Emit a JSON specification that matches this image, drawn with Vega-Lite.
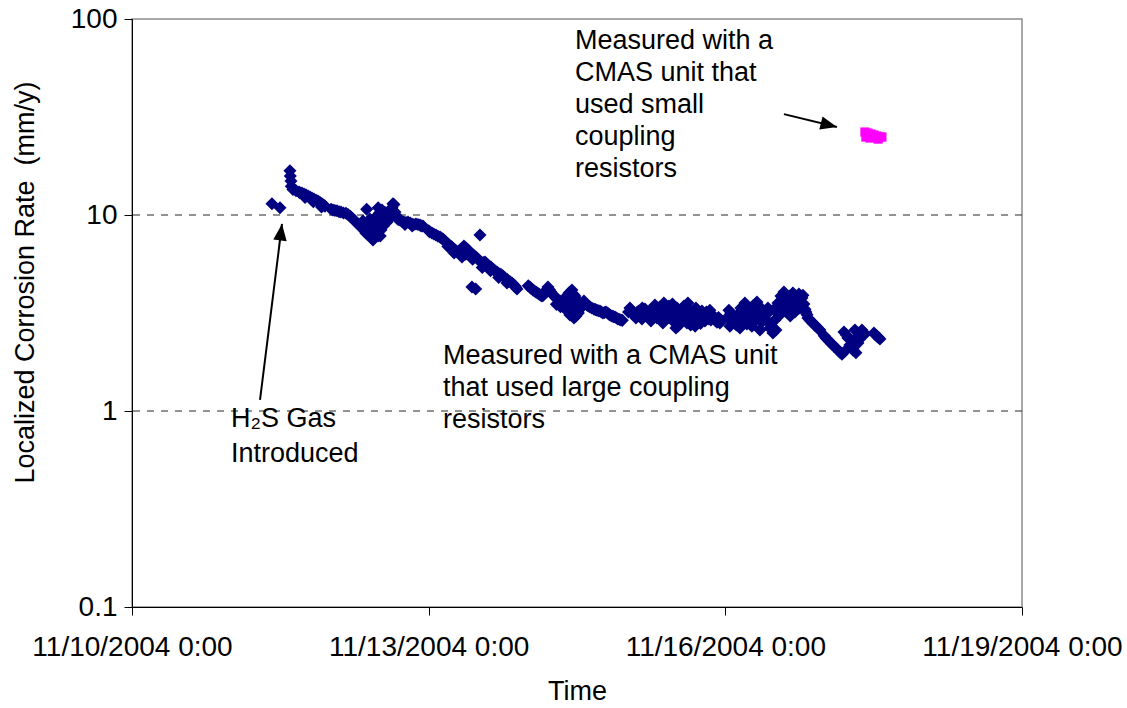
{
  "$schema": "https://vega.github.io/schema/vega-lite/v6.json",
  "width": 890,
  "height": 588,
  "autosize": {"type": "none"},
  "padding": {"left": 132, "top": 19, "right": 105, "bottom": 101},
  "background": "white",
  "config": {
    "view": {"stroke": "#8c8c8c", "strokeWidth": 1.5},
    "font": "Liberation Sans",
    "axis": {
      "labelFont": "Liberation Sans",
      "titleFont": "Liberation Sans",
      "labelColor": "black",
      "titleColor": "black",
      "domainColor": "black",
      "tickColor": "black",
      "grid": false,
      "labelFontSize": 28,
      "labelLimit": 0,
      "titleLimit": 0,
      "titleFontSize": 27,
      "titleFontWeight": "normal",
      "tickSize": 8
    }
  },
  "datasets": {
    "gridlines": [{"rate": 1}, {"rate": 10}],
    "readings": [
      {"time": "2004-11-11T09:58", "rate": 11.4, "unit": "large"},
      {"time": "2004-11-11T11:55", "rate": 10.9, "unit": "large"},
      {"time": "2004-11-11T14:20", "rate": 16.8, "unit": "large"},
      {"time": "2004-11-11T14:25", "rate": 15.8, "unit": "large"},
      {"time": "2004-11-11T14:35", "rate": 14.9, "unit": "large"},
      {"time": "2004-11-11T14:40", "rate": 14.0, "unit": "large"},
      {"time": "2004-11-11T15:04", "rate": 13.5, "unit": "large"},
      {"time": "2004-11-11T15:48", "rate": 13.3, "unit": "large"},
      {"time": "2004-11-11T16:32", "rate": 13.1, "unit": "large"},
      {"time": "2004-11-11T16:45", "rate": 13.0, "unit": "large"},
      {"time": "2004-11-11T17:15", "rate": 12.95, "unit": "large"},
      {"time": "2004-11-11T17:45", "rate": 12.8, "unit": "large"},
      {"time": "2004-11-11T18:00", "rate": 12.3, "unit": "large"},
      {"time": "2004-11-11T18:13", "rate": 12.7, "unit": "large"},
      {"time": "2004-11-11T18:45", "rate": 12.5, "unit": "large"},
      {"time": "2004-11-11T19:12", "rate": 12.35, "unit": "large"},
      {"time": "2004-11-11T19:40", "rate": 12.2, "unit": "large"},
      {"time": "2004-11-11T20:00", "rate": 11.7, "unit": "large"},
      {"time": "2004-11-11T20:10", "rate": 12.05, "unit": "large"},
      {"time": "2004-11-11T20:40", "rate": 11.9, "unit": "large"},
      {"time": "2004-11-11T21:08", "rate": 11.8, "unit": "large"},
      {"time": "2004-11-11T21:35", "rate": 11.6, "unit": "large"},
      {"time": "2004-11-11T22:00", "rate": 11.0, "unit": "large"},
      {"time": "2004-11-11T22:06", "rate": 11.4, "unit": "large"},
      {"time": "2004-11-11T22:30", "rate": 11.25, "unit": "large"},
      {"time": "2004-11-11T22:50", "rate": 11.1, "unit": "large"},
      {"time": "2004-11-12T00:20", "rate": 10.7, "unit": "large"},
      {"time": "2004-11-12T00:47", "rate": 10.6, "unit": "large"},
      {"time": "2004-11-12T01:15", "rate": 10.55, "unit": "large"},
      {"time": "2004-11-12T01:45", "rate": 10.5, "unit": "large"},
      {"time": "2004-11-12T02:15", "rate": 10.4, "unit": "large"},
      {"time": "2004-11-12T02:43", "rate": 10.35, "unit": "large"},
      {"time": "2004-11-12T03:20", "rate": 10.25, "unit": "large"},
      {"time": "2004-11-12T03:56", "rate": 10.2, "unit": "large"},
      {"time": "2004-11-12T04:25", "rate": 10.05, "unit": "large"},
      {"time": "2004-11-12T04:54", "rate": 9.88, "unit": "large"},
      {"time": "2004-11-12T05:15", "rate": 9.7, "unit": "large"},
      {"time": "2004-11-12T05:38", "rate": 9.54, "unit": "large"},
      {"time": "2004-11-12T06:00", "rate": 9.37, "unit": "large"},
      {"time": "2004-11-12T06:21", "rate": 9.21, "unit": "large"},
      {"time": "2004-11-12T06:45", "rate": 9.05, "unit": "large"},
      {"time": "2004-11-12T07:05", "rate": 8.89, "unit": "large"},
      {"time": "2004-11-12T07:25", "rate": 8.73, "unit": "large"},
      {"time": "2004-11-12T07:49", "rate": 8.58, "unit": "large"},
      {"time": "2004-11-12T08:03", "rate": 9.32, "unit": "large"},
      {"time": "2004-11-12T08:15", "rate": 8.43, "unit": "large"},
      {"time": "2004-11-12T08:33", "rate": 8.28, "unit": "large"},
      {"time": "2004-11-12T08:45", "rate": 8.1, "unit": "large"},
      {"time": "2004-11-12T08:57", "rate": 10.7, "unit": "large"},
      {"time": "2004-11-12T09:02", "rate": 8.0, "unit": "large"},
      {"time": "2004-11-12T09:16", "rate": 8.79, "unit": "large"},
      {"time": "2004-11-12T09:30", "rate": 8.6, "unit": "large"},
      {"time": "2004-11-12T09:45", "rate": 9.54, "unit": "large"},
      {"time": "2004-11-12T10:00", "rate": 9.0, "unit": "large"},
      {"time": "2004-11-12T10:14", "rate": 8.38, "unit": "large"},
      {"time": "2004-11-12T10:29", "rate": 7.45, "unit": "large"},
      {"time": "2004-11-12T10:30", "rate": 8.1, "unit": "large"},
      {"time": "2004-11-12T10:44", "rate": 7.72, "unit": "large"},
      {"time": "2004-11-12T10:50", "rate": 8.3, "unit": "large"},
      {"time": "2004-11-12T11:00", "rate": 8.5, "unit": "large"},
      {"time": "2004-11-12T11:13", "rate": 9.21, "unit": "large"},
      {"time": "2004-11-12T11:30", "rate": 9.9, "unit": "large"},
      {"time": "2004-11-12T11:42", "rate": 7.81, "unit": "large"},
      {"time": "2004-11-12T11:45", "rate": 10.9, "unit": "large"},
      {"time": "2004-11-12T12:00", "rate": 10.2, "unit": "large"},
      {"time": "2004-11-12T12:11", "rate": 9.65, "unit": "large"},
      {"time": "2004-11-12T12:15", "rate": 7.81, "unit": "large"},
      {"time": "2004-11-12T12:25", "rate": 8.38, "unit": "large"},
      {"time": "2004-11-12T12:30", "rate": 9.0, "unit": "large"},
      {"time": "2004-11-12T12:40", "rate": 10.6, "unit": "large"},
      {"time": "2004-11-12T12:50", "rate": 9.2, "unit": "large"},
      {"time": "2004-11-12T13:00", "rate": 8.8, "unit": "large"},
      {"time": "2004-11-12T13:09", "rate": 9.88, "unit": "large"},
      {"time": "2004-11-12T13:25", "rate": 10.3, "unit": "large"},
      {"time": "2004-11-12T13:38", "rate": 9.43, "unit": "large"},
      {"time": "2004-11-12T13:50", "rate": 9.7, "unit": "large"},
      {"time": "2004-11-12T13:55", "rate": 9.2, "unit": "large"},
      {"time": "2004-11-12T14:07", "rate": 10.1, "unit": "large"},
      {"time": "2004-11-12T14:20", "rate": 9.6, "unit": "large"},
      {"time": "2004-11-12T14:37", "rate": 10.6, "unit": "large"},
      {"time": "2004-11-12T14:50", "rate": 10.0, "unit": "large"},
      {"time": "2004-11-12T15:06", "rate": 10.9, "unit": "large"},
      {"time": "2004-11-12T15:10", "rate": 10.2, "unit": "large"},
      {"time": "2004-11-12T15:20", "rate": 11.4, "unit": "large"},
      {"time": "2004-11-12T15:35", "rate": 11.3, "unit": "large"},
      {"time": "2004-11-12T15:49", "rate": 10.35, "unit": "large"},
      {"time": "2004-11-12T16:00", "rate": 10.0, "unit": "large"},
      {"time": "2004-11-12T16:18", "rate": 9.65, "unit": "large"},
      {"time": "2004-11-12T16:30", "rate": 9.55, "unit": "large"},
      {"time": "2004-11-12T16:40", "rate": 9.5, "unit": "large"},
      {"time": "2004-11-12T17:02", "rate": 9.43, "unit": "large"},
      {"time": "2004-11-12T17:30", "rate": 9.3, "unit": "large"},
      {"time": "2004-11-12T18:00", "rate": 9.21, "unit": "large"},
      {"time": "2004-11-12T18:15", "rate": 8.95, "unit": "large"},
      {"time": "2004-11-12T18:30", "rate": 9.15, "unit": "large"},
      {"time": "2004-11-12T18:59", "rate": 9.21, "unit": "large"},
      {"time": "2004-11-12T19:30", "rate": 9.1, "unit": "large"},
      {"time": "2004-11-12T19:57", "rate": 9.0, "unit": "large"},
      {"time": "2004-11-12T20:00", "rate": 8.8, "unit": "large"},
      {"time": "2004-11-12T20:25", "rate": 8.95, "unit": "large"},
      {"time": "2004-11-12T20:55", "rate": 9.0, "unit": "large"},
      {"time": "2004-11-12T21:25", "rate": 8.95, "unit": "large"},
      {"time": "2004-11-12T21:53", "rate": 8.89, "unit": "large"},
      {"time": "2004-11-12T22:10", "rate": 8.8, "unit": "large"},
      {"time": "2004-11-12T22:37", "rate": 8.79, "unit": "large"},
      {"time": "2004-11-13T00:00", "rate": 8.3, "unit": "large"},
      {"time": "2004-11-13T00:19", "rate": 8.19, "unit": "large"},
      {"time": "2004-11-13T00:48", "rate": 8.09, "unit": "large"},
      {"time": "2004-11-13T01:15", "rate": 8.0, "unit": "large"},
      {"time": "2004-11-13T01:46", "rate": 7.9, "unit": "large"},
      {"time": "2004-11-13T02:15", "rate": 7.8, "unit": "large"},
      {"time": "2004-11-13T02:45", "rate": 7.72, "unit": "large"},
      {"time": "2004-11-13T03:05", "rate": 7.63, "unit": "large"},
      {"time": "2004-11-13T03:28", "rate": 7.54, "unit": "large"},
      {"time": "2004-11-13T03:50", "rate": 7.4, "unit": "large"},
      {"time": "2004-11-13T04:12", "rate": 7.28, "unit": "large"},
      {"time": "2004-11-13T04:35", "rate": 7.15, "unit": "large"},
      {"time": "2004-11-13T04:40", "rate": 6.9, "unit": "large"},
      {"time": "2004-11-13T04:56", "rate": 7.03, "unit": "large"},
      {"time": "2004-11-13T05:20", "rate": 6.95, "unit": "large"},
      {"time": "2004-11-13T05:39", "rate": 6.86, "unit": "large"},
      {"time": "2004-11-13T06:00", "rate": 6.75, "unit": "large"},
      {"time": "2004-11-13T06:10", "rate": 6.4, "unit": "large"},
      {"time": "2004-11-13T06:23", "rate": 6.63, "unit": "large"},
      {"time": "2004-11-13T06:45", "rate": 6.55, "unit": "large"},
      {"time": "2004-11-13T07:07", "rate": 6.47, "unit": "large"},
      {"time": "2004-11-13T07:30", "rate": 6.55, "unit": "large"},
      {"time": "2004-11-13T07:50", "rate": 6.7, "unit": "large"},
      {"time": "2004-11-13T08:05", "rate": 6.1, "unit": "large"},
      {"time": "2004-11-13T08:20", "rate": 6.8, "unit": "large"},
      {"time": "2004-11-13T08:34", "rate": 6.94, "unit": "large"},
      {"time": "2004-11-13T08:55", "rate": 6.8, "unit": "large"},
      {"time": "2004-11-13T09:00", "rate": 6.3, "unit": "large"},
      {"time": "2004-11-13T09:18", "rate": 6.7, "unit": "large"},
      {"time": "2004-11-13T09:40", "rate": 6.6, "unit": "large"},
      {"time": "2004-11-13T10:01", "rate": 6.47, "unit": "large"},
      {"time": "2004-11-13T10:20", "rate": 6.35, "unit": "large"},
      {"time": "2004-11-13T10:30", "rate": 4.29, "unit": "large"},
      {"time": "2004-11-13T10:40", "rate": 5.95, "unit": "large"},
      {"time": "2004-11-13T10:45", "rate": 6.25, "unit": "large"},
      {"time": "2004-11-13T11:05", "rate": 6.2, "unit": "large"},
      {"time": "2004-11-13T11:25", "rate": 4.19, "unit": "large"},
      {"time": "2004-11-13T11:29", "rate": 6.1, "unit": "large"},
      {"time": "2004-11-13T11:50", "rate": 6.0, "unit": "large"},
      {"time": "2004-11-13T12:12", "rate": 5.89, "unit": "large"},
      {"time": "2004-11-13T12:27", "rate": 7.9, "unit": "large"},
      {"time": "2004-11-13T12:35", "rate": 5.78, "unit": "large"},
      {"time": "2004-11-13T12:56", "rate": 5.69, "unit": "large"},
      {"time": "2004-11-13T13:00", "rate": 5.4, "unit": "large"},
      {"time": "2004-11-13T13:15", "rate": 5.72, "unit": "large"},
      {"time": "2004-11-13T13:40", "rate": 5.76, "unit": "large"},
      {"time": "2004-11-13T14:00", "rate": 5.65, "unit": "large"},
      {"time": "2004-11-13T14:23", "rate": 5.55, "unit": "large"},
      {"time": "2004-11-13T14:45", "rate": 5.48, "unit": "large"},
      {"time": "2004-11-13T15:00", "rate": 5.2, "unit": "large"},
      {"time": "2004-11-13T15:07", "rate": 5.42, "unit": "large"},
      {"time": "2004-11-13T15:30", "rate": 5.32, "unit": "large"},
      {"time": "2004-11-13T15:51", "rate": 5.24, "unit": "large"},
      {"time": "2004-11-13T16:10", "rate": 5.18, "unit": "large"},
      {"time": "2004-11-13T16:34", "rate": 5.12, "unit": "large"},
      {"time": "2004-11-13T16:55", "rate": 5.05, "unit": "large"},
      {"time": "2004-11-13T17:00", "rate": 4.8, "unit": "large"},
      {"time": "2004-11-13T17:18", "rate": 5.0, "unit": "large"},
      {"time": "2004-11-13T17:40", "rate": 4.95, "unit": "large"},
      {"time": "2004-11-13T18:02", "rate": 4.88, "unit": "large"},
      {"time": "2004-11-13T18:25", "rate": 4.8, "unit": "large"},
      {"time": "2004-11-13T18:45", "rate": 4.72, "unit": "large"},
      {"time": "2004-11-13T19:00", "rate": 4.5, "unit": "large"},
      {"time": "2004-11-13T19:05", "rate": 4.68, "unit": "large"},
      {"time": "2004-11-13T19:29", "rate": 4.61, "unit": "large"},
      {"time": "2004-11-13T19:50", "rate": 4.55, "unit": "large"},
      {"time": "2004-11-13T20:13", "rate": 4.5, "unit": "large"},
      {"time": "2004-11-13T20:35", "rate": 4.42, "unit": "large"},
      {"time": "2004-11-13T20:57", "rate": 4.34, "unit": "large"},
      {"time": "2004-11-13T21:10", "rate": 4.27, "unit": "large"},
      {"time": "2004-11-13T21:26", "rate": 4.19, "unit": "large"},
      {"time": "2004-11-14T00:10", "rate": 4.35, "unit": "large"},
      {"time": "2004-11-14T00:35", "rate": 4.29, "unit": "large"},
      {"time": "2004-11-14T00:55", "rate": 4.2, "unit": "large"},
      {"time": "2004-11-14T01:19", "rate": 4.14, "unit": "large"},
      {"time": "2004-11-14T01:40", "rate": 4.1, "unit": "large"},
      {"time": "2004-11-14T02:02", "rate": 4.05, "unit": "large"},
      {"time": "2004-11-14T02:25", "rate": 4.0, "unit": "large"},
      {"time": "2004-11-14T02:46", "rate": 3.95, "unit": "large"},
      {"time": "2004-11-14T03:10", "rate": 3.9, "unit": "large"},
      {"time": "2004-11-14T03:30", "rate": 3.86, "unit": "large"},
      {"time": "2004-11-14T03:50", "rate": 3.9, "unit": "large"},
      {"time": "2004-11-14T04:13", "rate": 4.0, "unit": "large"},
      {"time": "2004-11-14T04:35", "rate": 4.15, "unit": "large"},
      {"time": "2004-11-14T04:57", "rate": 4.29, "unit": "large"},
      {"time": "2004-11-14T05:20", "rate": 4.15, "unit": "large"},
      {"time": "2004-11-14T05:41", "rate": 4.05, "unit": "large"},
      {"time": "2004-11-14T06:00", "rate": 3.95, "unit": "large"},
      {"time": "2004-11-14T06:24", "rate": 3.86, "unit": "large"},
      {"time": "2004-11-14T06:45", "rate": 3.8, "unit": "large"},
      {"time": "2004-11-14T07:00", "rate": 3.5, "unit": "large"},
      {"time": "2004-11-14T07:08", "rate": 3.73, "unit": "large"},
      {"time": "2004-11-14T07:30", "rate": 3.68, "unit": "large"},
      {"time": "2004-11-14T07:52", "rate": 3.64, "unit": "large"},
      {"time": "2004-11-14T08:00", "rate": 3.4, "unit": "large"},
      {"time": "2004-11-14T08:15", "rate": 3.6, "unit": "large"},
      {"time": "2004-11-14T08:35", "rate": 3.56, "unit": "large"},
      {"time": "2004-11-14T08:55", "rate": 3.65, "unit": "large"},
      {"time": "2004-11-14T09:19", "rate": 3.77, "unit": "large"},
      {"time": "2004-11-14T09:25", "rate": 3.27, "unit": "large"},
      {"time": "2004-11-14T09:40", "rate": 3.9, "unit": "large"},
      {"time": "2004-11-14T09:50", "rate": 3.45, "unit": "large"},
      {"time": "2004-11-14T10:00", "rate": 3.6, "unit": "large"},
      {"time": "2004-11-14T10:03", "rate": 4.0, "unit": "large"},
      {"time": "2004-11-14T10:17", "rate": 3.09, "unit": "large"},
      {"time": "2004-11-14T10:25", "rate": 4.05, "unit": "large"},
      {"time": "2004-11-14T10:35", "rate": 3.3, "unit": "large"},
      {"time": "2004-11-14T10:46", "rate": 4.14, "unit": "large"},
      {"time": "2004-11-14T11:00", "rate": 3.1, "unit": "large"},
      {"time": "2004-11-14T11:05", "rate": 3.95, "unit": "large"},
      {"time": "2004-11-14T11:16", "rate": 2.98, "unit": "large"},
      {"time": "2004-11-14T11:30", "rate": 3.86, "unit": "large"},
      {"time": "2004-11-14T11:45", "rate": 3.05, "unit": "large"},
      {"time": "2004-11-14T11:50", "rate": 3.72, "unit": "large"},
      {"time": "2004-11-14T11:55", "rate": 3.5, "unit": "large"},
      {"time": "2004-11-14T12:14", "rate": 3.6, "unit": "large"},
      {"time": "2004-11-14T12:20", "rate": 3.16, "unit": "large"},
      {"time": "2004-11-14T12:35", "rate": 3.5, "unit": "large"},
      {"time": "2004-11-14T12:40", "rate": 3.3, "unit": "large"},
      {"time": "2004-11-14T12:58", "rate": 3.43, "unit": "large"},
      {"time": "2004-11-14T13:20", "rate": 3.52, "unit": "large"},
      {"time": "2004-11-14T13:41", "rate": 3.64, "unit": "large"},
      {"time": "2004-11-14T14:00", "rate": 3.55, "unit": "large"},
      {"time": "2004-11-14T14:25", "rate": 3.47, "unit": "large"},
      {"time": "2004-11-14T14:45", "rate": 3.43, "unit": "large"},
      {"time": "2004-11-14T15:09", "rate": 3.39, "unit": "large"},
      {"time": "2004-11-14T15:35", "rate": 3.35, "unit": "large"},
      {"time": "2004-11-14T16:07", "rate": 3.31, "unit": "large"},
      {"time": "2004-11-14T16:30", "rate": 3.29, "unit": "large"},
      {"time": "2004-11-14T16:50", "rate": 3.27, "unit": "large"},
      {"time": "2004-11-14T17:10", "rate": 3.25, "unit": "large"},
      {"time": "2004-11-14T17:34", "rate": 3.24, "unit": "large"},
      {"time": "2004-11-14T17:55", "rate": 3.2, "unit": "large"},
      {"time": "2004-11-14T18:18", "rate": 3.16, "unit": "large"},
      {"time": "2004-11-14T18:40", "rate": 3.18, "unit": "large"},
      {"time": "2004-11-14T19:02", "rate": 3.2, "unit": "large"},
      {"time": "2004-11-14T19:25", "rate": 3.16, "unit": "large"},
      {"time": "2004-11-14T19:45", "rate": 3.12, "unit": "large"},
      {"time": "2004-11-14T20:05", "rate": 3.08, "unit": "large"},
      {"time": "2004-11-14T20:29", "rate": 3.05, "unit": "large"},
      {"time": "2004-11-14T20:50", "rate": 3.03, "unit": "large"},
      {"time": "2004-11-14T21:13", "rate": 3.02, "unit": "large"},
      {"time": "2004-11-14T21:35", "rate": 2.98, "unit": "large"},
      {"time": "2004-11-14T21:56", "rate": 2.95, "unit": "large"},
      {"time": "2004-11-14T22:20", "rate": 2.93, "unit": "large"},
      {"time": "2004-11-14T22:40", "rate": 2.91, "unit": "large"},
      {"time": "2004-11-14T23:00", "rate": 2.9, "unit": "large"},
      {"time": "2004-11-15T00:30", "rate": 3.2, "unit": "large"},
      {"time": "2004-11-15T00:51", "rate": 3.35, "unit": "large"},
      {"time": "2004-11-15T01:10", "rate": 3.25, "unit": "large"},
      {"time": "2004-11-15T01:35", "rate": 3.12, "unit": "large"},
      {"time": "2004-11-15T02:00", "rate": 3.1, "unit": "large"},
      {"time": "2004-11-15T02:18", "rate": 2.98, "unit": "large"},
      {"time": "2004-11-15T02:40", "rate": 3.2, "unit": "large"},
      {"time": "2004-11-15T03:02", "rate": 3.24, "unit": "large"},
      {"time": "2004-11-15T03:25", "rate": 3.1, "unit": "large"},
      {"time": "2004-11-15T03:46", "rate": 2.95, "unit": "large"},
      {"time": "2004-11-15T03:50", "rate": 3.35, "unit": "large"},
      {"time": "2004-11-15T04:10", "rate": 3.15, "unit": "large"},
      {"time": "2004-11-15T04:29", "rate": 3.31, "unit": "large"},
      {"time": "2004-11-15T04:50", "rate": 3.2, "unit": "large"},
      {"time": "2004-11-15T05:13", "rate": 3.05, "unit": "large"},
      {"time": "2004-11-15T05:35", "rate": 3.25, "unit": "large"},
      {"time": "2004-11-15T05:57", "rate": 2.88, "unit": "large"},
      {"time": "2004-11-15T06:20", "rate": 3.0, "unit": "large"},
      {"time": "2004-11-15T06:40", "rate": 3.2, "unit": "large"},
      {"time": "2004-11-15T06:55", "rate": 3.47, "unit": "large"},
      {"time": "2004-11-15T07:05", "rate": 3.25, "unit": "large"},
      {"time": "2004-11-15T07:24", "rate": 2.98, "unit": "large"},
      {"time": "2004-11-15T07:45", "rate": 3.15, "unit": "large"},
      {"time": "2004-11-15T08:08", "rate": 3.39, "unit": "large"},
      {"time": "2004-11-15T08:30", "rate": 3.05, "unit": "large"},
      {"time": "2004-11-15T08:51", "rate": 2.81, "unit": "large"},
      {"time": "2004-11-15T09:05", "rate": 3.56, "unit": "large"},
      {"time": "2004-11-15T09:15", "rate": 2.95, "unit": "large"},
      {"time": "2004-11-15T09:35", "rate": 3.12, "unit": "large"},
      {"time": "2004-11-15T09:55", "rate": 3.3, "unit": "large"},
      {"time": "2004-11-15T10:19", "rate": 3.43, "unit": "large"},
      {"time": "2004-11-15T10:40", "rate": 3.15, "unit": "large"},
      {"time": "2004-11-15T11:02", "rate": 2.91, "unit": "large"},
      {"time": "2004-11-15T11:10", "rate": 3.51, "unit": "large"},
      {"time": "2004-11-15T11:25", "rate": 3.05, "unit": "large"},
      {"time": "2004-11-15T11:46", "rate": 3.24, "unit": "large"},
      {"time": "2004-11-15T12:00", "rate": 2.65, "unit": "large"},
      {"time": "2004-11-15T12:15", "rate": 3.35, "unit": "large"},
      {"time": "2004-11-15T12:30", "rate": 2.71, "unit": "large"},
      {"time": "2004-11-15T12:50", "rate": 2.95, "unit": "large"},
      {"time": "2004-11-15T13:00", "rate": 2.8, "unit": "large"},
      {"time": "2004-11-15T13:14", "rate": 3.02, "unit": "large"},
      {"time": "2004-11-15T13:35", "rate": 3.2, "unit": "large"},
      {"time": "2004-11-15T13:57", "rate": 3.43, "unit": "large"},
      {"time": "2004-11-15T14:20", "rate": 3.1, "unit": "large"},
      {"time": "2004-11-15T14:41", "rate": 2.81, "unit": "large"},
      {"time": "2004-11-15T14:55", "rate": 3.56, "unit": "large"},
      {"time": "2004-11-15T15:05", "rate": 3.3, "unit": "large"},
      {"time": "2004-11-15T15:25", "rate": 3.16, "unit": "large"},
      {"time": "2004-11-15T15:35", "rate": 2.75, "unit": "large"},
      {"time": "2004-11-15T15:45", "rate": 2.85, "unit": "large"},
      {"time": "2004-11-15T16:08", "rate": 2.91, "unit": "large"},
      {"time": "2004-11-15T16:25", "rate": 3.1, "unit": "large"},
      {"time": "2004-11-15T16:40", "rate": 2.71, "unit": "large"},
      {"time": "2004-11-15T16:52", "rate": 3.35, "unit": "large"},
      {"time": "2004-11-15T17:15", "rate": 3.2, "unit": "large"},
      {"time": "2004-11-15T17:36", "rate": 2.98, "unit": "large"},
      {"time": "2004-11-15T17:55", "rate": 3.05, "unit": "large"},
      {"time": "2004-11-15T18:00", "rate": 2.8, "unit": "large"},
      {"time": "2004-11-15T18:19", "rate": 3.24, "unit": "large"},
      {"time": "2004-11-15T18:40", "rate": 3.0, "unit": "large"},
      {"time": "2004-11-15T19:03", "rate": 2.88, "unit": "large"},
      {"time": "2004-11-15T19:25", "rate": 3.2, "unit": "large"},
      {"time": "2004-11-15T19:47", "rate": 3.09, "unit": "large"},
      {"time": "2004-11-15T20:00", "rate": 2.95, "unit": "large"},
      {"time": "2004-11-15T20:15", "rate": 3.27, "unit": "large"},
      {"time": "2004-11-15T20:30", "rate": 2.91, "unit": "large"},
      {"time": "2004-11-15T20:50", "rate": 3.1, "unit": "large"},
      {"time": "2004-11-15T21:14", "rate": 2.98, "unit": "large"},
      {"time": "2004-11-15T21:35", "rate": 2.9, "unit": "large"},
      {"time": "2004-11-15T21:58", "rate": 2.84, "unit": "large"},
      {"time": "2004-11-15T22:20", "rate": 3.0, "unit": "large"},
      {"time": "2004-11-15T22:41", "rate": 2.81, "unit": "large"},
      {"time": "2004-11-15T23:00", "rate": 2.9, "unit": "large"},
      {"time": "2004-11-16T00:30", "rate": 3.0, "unit": "large"},
      {"time": "2004-11-16T00:52", "rate": 3.27, "unit": "large"},
      {"time": "2004-11-16T01:07", "rate": 2.71, "unit": "large"},
      {"time": "2004-11-16T01:20", "rate": 3.15, "unit": "large"},
      {"time": "2004-11-16T01:36", "rate": 2.98, "unit": "large"},
      {"time": "2004-11-16T02:00", "rate": 3.0, "unit": "large"},
      {"time": "2004-11-16T02:20", "rate": 2.84, "unit": "large"},
      {"time": "2004-11-16T02:40", "rate": 2.75, "unit": "large"},
      {"time": "2004-11-16T03:03", "rate": 3.12, "unit": "large"},
      {"time": "2004-11-16T03:20", "rate": 2.9, "unit": "large"},
      {"time": "2004-11-16T03:33", "rate": 2.65, "unit": "large"},
      {"time": "2004-11-16T03:47", "rate": 3.35, "unit": "large"},
      {"time": "2004-11-16T04:00", "rate": 3.2, "unit": "large"},
      {"time": "2004-11-16T04:31", "rate": 3.05, "unit": "large"},
      {"time": "2004-11-16T04:45", "rate": 3.56, "unit": "large"},
      {"time": "2004-11-16T05:00", "rate": 3.3, "unit": "large"},
      {"time": "2004-11-16T05:14", "rate": 2.78, "unit": "large"},
      {"time": "2004-11-16T05:35", "rate": 2.9, "unit": "large"},
      {"time": "2004-11-16T05:58", "rate": 3.2, "unit": "large"},
      {"time": "2004-11-16T06:10", "rate": 3.05, "unit": "large"},
      {"time": "2004-11-16T06:27", "rate": 2.71, "unit": "large"},
      {"time": "2004-11-16T06:42", "rate": 3.43, "unit": "large"},
      {"time": "2004-11-16T07:00", "rate": 2.85, "unit": "large"},
      {"time": "2004-11-16T07:26", "rate": 2.98, "unit": "large"},
      {"time": "2004-11-16T07:40", "rate": 3.6, "unit": "large"},
      {"time": "2004-11-16T07:55", "rate": 3.1, "unit": "large"},
      {"time": "2004-11-16T08:09", "rate": 3.27, "unit": "large"},
      {"time": "2004-11-16T08:24", "rate": 2.59, "unit": "large"},
      {"time": "2004-11-16T08:40", "rate": 3.35, "unit": "large"},
      {"time": "2004-11-16T08:53", "rate": 2.84, "unit": "large"},
      {"time": "2004-11-16T09:15", "rate": 2.95, "unit": "large"},
      {"time": "2004-11-16T09:37", "rate": 3.12, "unit": "large"},
      {"time": "2004-11-16T10:00", "rate": 2.9, "unit": "large"},
      {"time": "2004-11-16T10:20", "rate": 3.35, "unit": "large"},
      {"time": "2004-11-16T10:35", "rate": 3.2, "unit": "large"},
      {"time": "2004-11-16T10:49", "rate": 2.65, "unit": "large"},
      {"time": "2004-11-16T11:10", "rate": 2.8, "unit": "large"},
      {"time": "2004-11-16T11:33", "rate": 2.5, "unit": "large"},
      {"time": "2004-11-16T11:50", "rate": 3.3, "unit": "large"},
      {"time": "2004-11-16T12:02", "rate": 2.91, "unit": "large"},
      {"time": "2004-11-16T12:17", "rate": 2.59, "unit": "large"},
      {"time": "2004-11-16T12:30", "rate": 3.2, "unit": "large"},
      {"time": "2004-11-16T12:46", "rate": 3.56, "unit": "large"},
      {"time": "2004-11-16T13:00", "rate": 3.05, "unit": "large"},
      {"time": "2004-11-16T13:15", "rate": 3.5, "unit": "large"},
      {"time": "2004-11-16T13:30", "rate": 3.86, "unit": "large"},
      {"time": "2004-11-16T13:45", "rate": 3.3, "unit": "large"},
      {"time": "2004-11-16T14:13", "rate": 4.05, "unit": "large"},
      {"time": "2004-11-16T14:28", "rate": 3.27, "unit": "large"},
      {"time": "2004-11-16T14:40", "rate": 3.9, "unit": "large"},
      {"time": "2004-11-16T14:57", "rate": 3.68, "unit": "large"},
      {"time": "2004-11-16T15:10", "rate": 3.5, "unit": "large"},
      {"time": "2004-11-16T15:41", "rate": 3.86, "unit": "large"},
      {"time": "2004-11-16T15:45", "rate": 3.05, "unit": "large"},
      {"time": "2004-11-16T15:55", "rate": 3.7, "unit": "large"},
      {"time": "2004-11-16T16:05", "rate": 3.35, "unit": "large"},
      {"time": "2004-11-16T16:24", "rate": 4.0, "unit": "large"},
      {"time": "2004-11-16T16:40", "rate": 3.8, "unit": "large"},
      {"time": "2004-11-16T16:53", "rate": 3.2, "unit": "large"},
      {"time": "2004-11-16T17:08", "rate": 3.6, "unit": "large"},
      {"time": "2004-11-16T17:30", "rate": 3.45, "unit": "large"},
      {"time": "2004-11-16T17:52", "rate": 3.95, "unit": "large"},
      {"time": "2004-11-16T18:06", "rate": 3.35, "unit": "large"},
      {"time": "2004-11-16T18:20", "rate": 3.6, "unit": "large"},
      {"time": "2004-11-16T18:35", "rate": 3.77, "unit": "large"},
      {"time": "2004-11-16T18:50", "rate": 3.9, "unit": "large"},
      {"time": "2004-11-16T19:04", "rate": 3.51, "unit": "large"},
      {"time": "2004-11-16T19:20", "rate": 3.3, "unit": "large"},
      {"time": "2004-11-16T19:34", "rate": 3.2, "unit": "large"},
      {"time": "2004-11-16T19:50", "rate": 3.1, "unit": "large"},
      {"time": "2004-11-16T20:03", "rate": 2.98, "unit": "large"},
      {"time": "2004-11-16T20:25", "rate": 2.93, "unit": "large"},
      {"time": "2004-11-16T20:46", "rate": 2.88, "unit": "large"},
      {"time": "2004-11-16T21:05", "rate": 2.83, "unit": "large"},
      {"time": "2004-11-16T21:30", "rate": 2.78, "unit": "large"},
      {"time": "2004-11-16T21:50", "rate": 2.73, "unit": "large"},
      {"time": "2004-11-16T22:14", "rate": 2.68, "unit": "large"},
      {"time": "2004-11-16T22:35", "rate": 2.63, "unit": "large"},
      {"time": "2004-11-16T22:57", "rate": 2.59, "unit": "large"},
      {"time": "2004-11-17T00:00", "rate": 2.42, "unit": "large"},
      {"time": "2004-11-17T00:25", "rate": 2.36, "unit": "large"},
      {"time": "2004-11-17T00:55", "rate": 2.3, "unit": "large"},
      {"time": "2004-11-17T01:23", "rate": 2.25, "unit": "large"},
      {"time": "2004-11-17T01:50", "rate": 2.2, "unit": "large"},
      {"time": "2004-11-17T02:21", "rate": 2.14, "unit": "large"},
      {"time": "2004-11-17T02:50", "rate": 2.1, "unit": "large"},
      {"time": "2004-11-17T03:19", "rate": 2.05, "unit": "large"},
      {"time": "2004-11-17T03:45", "rate": 2.0, "unit": "large"},
      {"time": "2004-11-17T04:18", "rate": 1.95, "unit": "large"},
      {"time": "2004-11-17T04:47", "rate": 2.53, "unit": "large"},
      {"time": "2004-11-17T05:01", "rate": 2.02, "unit": "large"},
      {"time": "2004-11-17T05:20", "rate": 2.45, "unit": "large"},
      {"time": "2004-11-17T05:45", "rate": 2.36, "unit": "large"},
      {"time": "2004-11-17T06:14", "rate": 2.17, "unit": "large"},
      {"time": "2004-11-17T06:35", "rate": 2.1, "unit": "large"},
      {"time": "2004-11-17T06:58", "rate": 2.05, "unit": "large"},
      {"time": "2004-11-17T07:10", "rate": 2.3, "unit": "large"},
      {"time": "2004-11-17T07:27", "rate": 2.59, "unit": "large"},
      {"time": "2004-11-17T07:42", "rate": 1.98, "unit": "large"},
      {"time": "2004-11-17T08:11", "rate": 2.22, "unit": "large"},
      {"time": "2004-11-17T08:25", "rate": 2.3, "unit": "large"},
      {"time": "2004-11-17T08:40", "rate": 2.41, "unit": "large"},
      {"time": "2004-11-17T09:09", "rate": 2.59, "unit": "large"},
      {"time": "2004-11-17T09:30", "rate": 2.52, "unit": "large"},
      {"time": "2004-11-17T09:53", "rate": 2.47, "unit": "large"},
      {"time": "2004-11-17T12:04", "rate": 2.5, "unit": "large"},
      {"time": "2004-11-17T12:25", "rate": 2.45, "unit": "large"},
      {"time": "2004-11-17T12:47", "rate": 2.41, "unit": "large"},
      {"time": "2004-11-17T13:10", "rate": 2.37, "unit": "large"},
      {"time": "2004-11-17T13:31", "rate": 2.33, "unit": "large"},
      {"time": "2004-11-17T09:53", "rate": 26.5, "unit": "small"},
      {"time": "2004-11-17T10:07", "rate": 25.0, "unit": "small"},
      {"time": "2004-11-17T10:36", "rate": 26.2, "unit": "small"},
      {"time": "2004-11-17T11:05", "rate": 24.7, "unit": "small"},
      {"time": "2004-11-17T11:20", "rate": 25.9, "unit": "small"},
      {"time": "2004-11-17T12:04", "rate": 25.6, "unit": "small"},
      {"time": "2004-11-17T12:47", "rate": 25.3, "unit": "small"},
      {"time": "2004-11-17T13:05", "rate": 24.4, "unit": "small"},
      {"time": "2004-11-17T13:31", "rate": 25.0, "unit": "small"},
      {"time": "2004-11-17T14:00", "rate": 25.0, "unit": "small"}
    ],
    "arrows": [
      {"arrow": "h2s", "time": "2004-11-11T07:04", "rate": 1.138, "tipTime": "2004-11-11T12:24", "tipRate": 9.0},
      {"arrow": "small", "time": "2004-11-16T14:13", "rate": 32.7, "tipTime": "2004-11-17T03:05", "tipRate": 28.1}
    ],
    "notes": [
      {"note": "small", "time": "2004-11-14T11:30", "rate": 69.9, "lines": ["Measured with a", "CMAS unit that", "used small", "coupling", "resistors"]},
      {"note": "large", "time": "2004-11-13T03:28", "rate": 1.727, "lines": ["Measured with a CMAS unit", "that used large coupling", "resistors"]},
      {"note": "h2s", "time": "2004-11-11T00:01", "rate": 0.824, "lines": ["H₂S Gas", "Introduced"]}
    ]
  },
  "layer": [
    {
      "data": {"name": "gridlines"},
      "mark": {"type": "rule", "color": "#262626", "strokeWidth": 1, "strokeDash": [7, 7]},
      "encoding": {
        "y": {
          "field": "rate",
          "type": "quantitative",
          "scale": {"type": "log", "domain": [0.1, 100], "nice": false},
          "axis": {
            "values": [0.1, 1, 10, 100],
            "format": "~g",
            "title": "Localized Corrosion Rate \u00a0(mm/y)",
            "labelPadding": 7,
            "titleX": -107,
            "titleY": 263,
            "titleAngle": -90,
            "titleBaseline": "middle",
            "titleAnchor": "middle",
            "titleAlign": "center"
          }
        }
      }
    },
    {
      "data": {"name": "readings"},
      "transform": [{"filter": "datum.unit === 'large'"}],
      "mark": {"type": "point", "shape": "diamond", "filled": true, "opacity": 1, "size": 170, "color": "#000080", "strokeWidth": 0},
      "encoding": {
        "x": {
          "field": "time",
          "type": "temporal",
          "scale": {"domain": [{"year": 2004, "month": 11, "date": 10}, {"year": 2004, "month": 11, "date": 19}], "nice": false},
          "axis": {
            "values": [
              {"year": 2004, "month": 11, "date": 10},
              {"year": 2004, "month": 11, "date": 13},
              {"year": 2004, "month": 11, "date": 16},
              {"year": 2004, "month": 11, "date": 19}
            ],
            "format": "%m/%d/%Y %-H:%M",
            "labelFlush": false,
            "labelOverlap": false,
            "labelBound": false,
            "labelPadding": 18,
            "title": "Time",
            "titleY": 92,
            "titleBaseline": "alphabetic"
          }
        },
        "y": {"field": "rate", "type": "quantitative"}
      }
    },
    {
      "data": {"name": "readings"},
      "transform": [{"filter": "datum.unit === 'small'"}],
      "mark": {"type": "point", "shape": "square", "filled": true, "opacity": 1, "size": 85, "color": "#FF00FF", "strokeWidth": 0},
      "encoding": {
        "x": {"field": "time", "type": "temporal"},
        "y": {"field": "rate", "type": "quantitative"}
      }
    },
    {
      "data": {"name": "arrows"},
      "mark": {"type": "rule", "color": "black", "strokeWidth": 2},
      "encoding": {
        "x": {"field": "time", "type": "temporal"},
        "x2": {"field": "tipTime"},
        "y": {"field": "rate", "type": "quantitative"},
        "y2": {"field": "tipRate"}
      }
    },
    {
      "data": {"name": "arrows"},
      "transform": [{"filter": "datum.arrow === 'h2s'"}],
      "mark": {"type": "point", "shape": "M0,0L-0.45,1.1L0.45,1.1Z", "size": 900, "filled": true, "opacity": 1, "color": "black", "strokeWidth": 0, "angle": 7},
      "encoding": {
        "x": {"field": "tipTime", "type": "temporal"},
        "y": {"field": "tipRate", "type": "quantitative"}
      }
    },
    {
      "data": {"name": "arrows"},
      "transform": [{"filter": "datum.arrow === 'small'"}],
      "mark": {"type": "point", "shape": "M0,0L-0.45,1.1L0.45,1.1Z", "size": 900, "filled": true, "opacity": 1, "color": "black", "strokeWidth": 0, "angle": 104},
      "encoding": {
        "x": {"field": "tipTime", "type": "temporal"},
        "y": {"field": "tipRate", "type": "quantitative"}
      }
    },
    {
      "data": {"name": "notes"},
      "transform": [{"filter": "datum.note !== 'h2s'"}],
      "mark": {"type": "text", "align": "left", "baseline": "alphabetic", "font": "Liberation Sans", "fontSize": 27, "lineHeight": 32, "color": "black"},
      "encoding": {
        "x": {"field": "time", "type": "temporal"},
        "y": {"field": "rate", "type": "quantitative"},
        "text": {"field": "lines"}
      }
    },
    {
      "data": {"name": "notes"},
      "transform": [{"filter": "datum.note === 'h2s'"}],
      "mark": {"type": "text", "align": "left", "baseline": "alphabetic", "font": "Liberation Sans", "fontSize": 27, "lineHeight": 35, "color": "black"},
      "encoding": {
        "x": {"field": "time", "type": "temporal"},
        "y": {"field": "rate", "type": "quantitative"},
        "text": {"field": "lines"}
      }
    }
  ]
}
